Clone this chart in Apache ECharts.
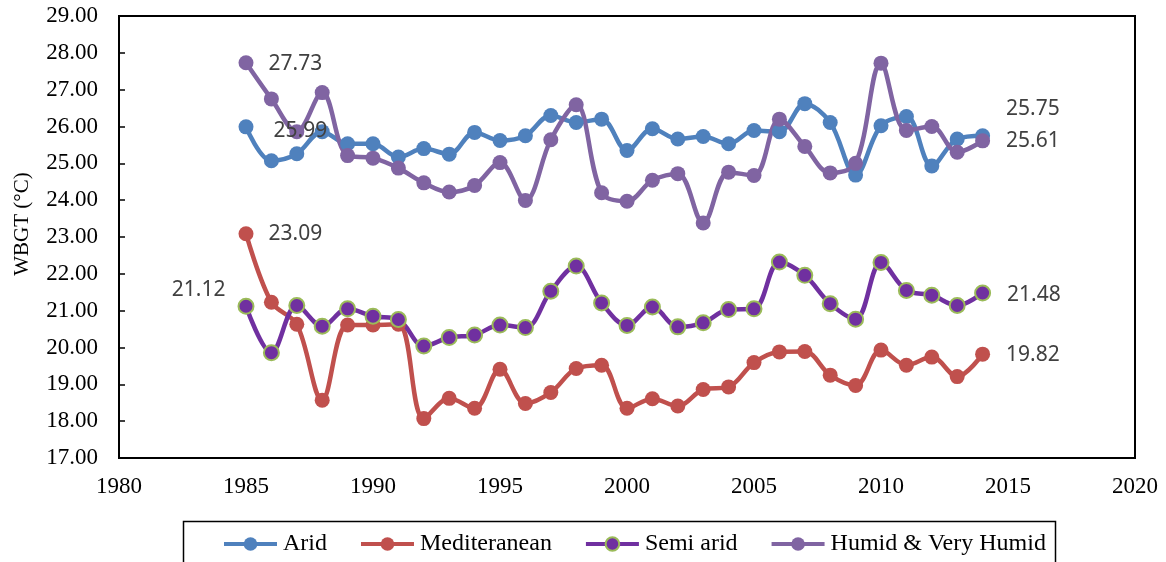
<!DOCTYPE html>
<html>
<head>
<meta charset="utf-8">
<script src="https://cdn.jsdelivr.net/npm/echarts@6/dist/echarts.min.js"></script>
<style>
  html, body { margin: 0; padding: 0; background: #fff; }
  #chart { width: 1166px; height: 562px; }
</style>
</head>
<body>
<div id="chart"></div>
<script>
// Annual mean WBGT per climate zone, 1985-2014
const years = [1985, 1986, 1987, 1988, 1989, 1990, 1991, 1992, 1993, 1994,
               1995, 1996, 1997, 1998, 1999, 2000, 2001, 2002, 2003, 2004,
               2005, 2006, 2007, 2008, 2009, 2010, 2011, 2012, 2013, 2014];

const arid = [25.99, 25.07, 25.26, 25.86, 25.53, 25.53, 25.17, 25.40, 25.25, 25.84,
              25.62, 25.75, 26.30, 26.11, 26.20, 25.35, 25.94, 25.66, 25.73, 25.53,
              25.89, 25.86, 26.62, 26.11, 24.68, 26.02, 26.27, 24.93, 25.66, 25.75];

const mediterranean = [23.09, 21.23, 20.63, 18.57, 20.61, 20.61, 20.63, 18.07, 18.62, 18.35,
                       19.41, 18.48, 18.78, 19.43, 19.52, 18.35, 18.61, 18.41, 18.86, 18.93,
                       19.59, 19.88, 19.89, 19.25, 18.97, 19.93, 19.52, 19.74, 19.21, 19.82];

const semiArid = [21.12, 19.86, 21.14, 20.58, 21.05, 20.85, 20.76, 20.04, 20.27, 20.34,
                  20.61, 20.54, 21.53, 22.21, 21.21, 20.60, 21.10, 20.56, 20.67, 21.03,
                  21.05, 22.32, 21.96, 21.19, 20.77, 22.31, 21.55, 21.42, 21.14, 21.48];

const humid = [27.73, 26.75, 25.86, 26.92, 25.21, 25.14, 24.87, 24.47, 24.22, 24.40,
               25.02, 23.99, 25.64, 26.59, 24.20, 23.97, 24.54, 24.72, 23.38, 24.76,
               24.67, 26.20, 25.46, 24.74, 25.00, 27.72, 25.89, 26.00, 25.30, 25.61];

const yTicks = ['17.00', '18.00', '19.00', '20.00', '21.00', '22.00', '23.00',
                '24.00', '25.00', '26.00', '27.00', '28.00', '29.00'];

const xTicks = ['1980', '1985', '1990', '1995', '2000', '2005', '2010', '2015', '2020'];

const seriesNames = ['Arid', 'Mediteranean', 'Semi arid', 'Humid & Very Humid'];

const serif = '"Liberation Serif", "Times New Roman", serif';
const sans = '"Noto Sans", "Open Sans", sans-serif';

// value labels shown on the first and last point of each series
function endLabel(cfg) {
  return Object.assign({
    show: true,
    fontFamily: sans,
    fontSize: 21,
    color: '#404040',
    formatter: p => p.value[1].toFixed(2)
  }, cfg);
}

function buildData(values, firstLabel, lastLabel) {
  return values.map((v, i) => {
    const item = { value: [years[i], v] };
    if (i === 0 && firstLabel) item.label = endLabel(firstLabel);
    if (i === values.length - 1 && lastLabel) item.label = endLabel(lastLabel);
    return item;
  });
}

function lineSeries(name, values, color, first, last, extra) {
  return Object.assign({
    name: name,
    type: 'line',
    smooth: 0.35,
    symbol: 'circle',
    symbolSize: 15,
    showAllSymbol: true,
    lineStyle: { color: color, width: 4.5 },
    itemStyle: { color: color },
    label: { show: false },
    emphasis: { disabled: true },
    data: buildData(values, first, last)
  }, extra || {});
}

const chart = echarts.init(document.getElementById('chart'), null, { renderer: 'canvas' });

chart.setOption({
  animation: false,
  backgroundColor: '#ffffff',
  grid: {
    left: 119, right: 31, top: 16, bottom: 104,
    show: true, borderColor: '#000', borderWidth: 2, backgroundColor: 'transparent'
  },
  xAxis: {
    type: 'value',
    min: 1980, max: 2020, interval: 5,
    axisLine: { show: true, lineStyle: { color: '#000', width: 2 } },
    axisTick: { show: false },
    splitLine: { show: false },
    axisLabel: {
      color: '#000', fontFamily: serif, fontSize: 23, margin: 17,
      formatter: v => xTicks[Math.round((v - 1980) / 5)]
    }
  },
  yAxis: {
    type: 'value',
    min: 17, max: 29, interval: 1,
    axisLine: { show: true, lineStyle: { color: '#000', width: 2 } },
    axisTick: { show: true, inside: true, length: 6, lineStyle: { color: '#000', width: 1.5 } },
    splitLine: { show: false },
    axisLabel: {
      color: '#000', fontFamily: serif, fontSize: 23, margin: 21,
      formatter: v => yTicks[Math.round(v - 17)]
    }
  },
  legend: {
    left: 222,
    top: 532,
    padding: 0,
    itemWidth: 53,
    itemHeight: 17,
    itemGap: 32,
    lineStyle: { width: 4 },
    textStyle: { color: '#000', fontFamily: serif, fontSize: 24, padding: [0, 0, 0, 1] },
    data: seriesNames
  },
  graphic: [
    {
      // y-axis title
      type: 'text',
      x: 22,
      y: 224,
      rotation: Math.PI / 2,
      silent: true,
      style: {
        text: 'WBGT (°C)',
        font: '21px ' + serif,
        fill: '#000',
        textAlign: 'center',
        textVerticalAlign: 'middle'
      }
    },
    {
      // frame around the legend
      type: 'rect',
      shape: { x: 183.5, y: 521.5, width: 872, height: 60 },
      style: { fill: 'none', stroke: '#000', lineWidth: 1.5 },
      silent: true,
      z: 0
    }
  ],
  series: [
    lineSeries(seriesNames[0], arid, '#4F81BD',
      { position: 'right', distance: 20, offset: [0, 4] },
      { position: 'right', distance: 16, offset: [0, -27] }),
    lineSeries(seriesNames[1], mediterranean, '#C0504D',
      { position: 'right', distance: 15 },
      { position: 'right', distance: 16, offset: [0, 1] }),
    lineSeries(seriesNames[2], semiArid, '#7030A0',
      { position: 'left', distance: 12, offset: [0, -16] },
      { position: 'right', distance: 16, offset: [0, 2] },
      { itemStyle: { color: '#7030A0', borderColor: '#9BBB59', borderWidth: 2 } }),
    lineSeries(seriesNames[3], humid, '#8064A2',
      { position: 'right', distance: 15, offset: [0, 1] },
      { position: 'right', distance: 16 })
  ]
});
</script>
</body>
</html>
